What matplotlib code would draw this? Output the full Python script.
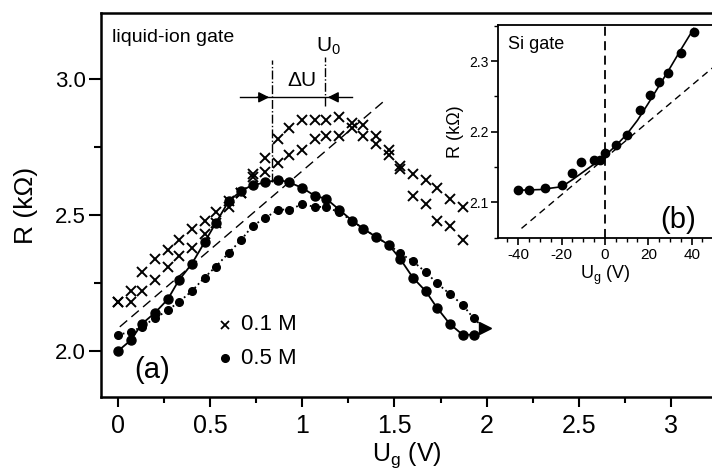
import matplotlib
matplotlib.use("Agg")
import matplotlib.pyplot as plt
from matplotlib.ticker import MultipleLocator

plt.rcParams["font.family"] = ["Liberation Sans", "DejaVu Sans"]
plt.rcParams["mathtext.default"] = "regular"
plt.rcParams["axes.unicode_minus"] = False

# (a) liquid-ion gate, 0.1 M (crosses, two sweeps)
ug_cross = [0.00, 0.07, 0.13, 0.20, 0.27, 0.33, 0.40, 0.47, 0.53, 0.60, 0.67, 0.73, 0.80, 0.87, 0.93,
            1.00, 1.07, 1.13, 1.20, 1.27, 1.33, 1.40, 1.47, 1.53, 1.60, 1.67, 1.73, 1.80, 1.87]
r_cross_up = [2.18, 2.22, 2.29, 2.34, 2.37, 2.41, 2.45, 2.48, 2.51, 2.55, 2.58, 2.65, 2.71, 2.78, 2.82,
              2.85, 2.85, 2.85, 2.86, 2.84, 2.83, 2.79, 2.74, 2.68, 2.65, 2.63, 2.60, 2.56, 2.53]
r_cross_low = [2.18, 2.18, 2.22, 2.26, 2.31, 2.35, 2.38, 2.43, 2.47, 2.53, 2.58, 2.64, 2.66, 2.69, 2.72,
               2.74, 2.78, 2.79, 2.79, 2.82, 2.79, 2.76, 2.72, 2.67, 2.57, 2.54, 2.48, 2.46, 2.41]

# (a) 0.5 M (dots, two sweeps)
ug_dot = [0.00, 0.07, 0.13, 0.20, 0.27, 0.33, 0.40, 0.47, 0.53, 0.60, 0.67, 0.73, 0.80, 0.87, 0.93,
          1.00, 1.07, 1.13, 1.20, 1.27, 1.33, 1.40, 1.47, 1.53, 1.60, 1.67, 1.73, 1.80, 1.87, 1.93]
r_dot_solid = [2.00, 2.04, 2.10, 2.14, 2.19, 2.26, 2.32, 2.40, 2.47, 2.55, 2.59, 2.61, 2.62, 2.63, 2.62,
               2.60, 2.57, 2.56, 2.52, 2.48, 2.45, 2.42, 2.39, 2.34, 2.27, 2.22, 2.16, 2.10, 2.06, 2.06]
r_dot_dotted = [2.06, 2.07, 2.09, 2.12, 2.15, 2.18, 2.22, 2.27, 2.31, 2.36, 2.41, 2.46, 2.49, 2.52, 2.52,
                2.54, 2.53, 2.53, 2.51, 2.48, 2.45, 2.42, 2.39, 2.36, 2.33, 2.29, 2.25, 2.21, 2.17, 2.12]
dotted_end = (1.99, 2.083)

# linear reference line in (a)
ug_lin = [0.01, 1.44]
r_lin = [2.089, 2.917]

# Delta U marks
u_left, u0 = 0.836, 1.123
arrow_y = 2.933

# (b) Si gate
ug_si = [-40, -35, -27.5, -20, -15, -11, -5, -2.5, 0, 5, 10, 16, 21, 25, 29, 35, 41]
r_si = [2.117, 2.118, 2.120, 2.124, 2.141, 2.157, 2.160, 2.160, 2.170, 2.181, 2.195, 2.231, 2.252,
        2.271, 2.283, 2.312, 2.341]
ug_si_fit = [-40, -30, -20, -15, -10, -5, 0, 5, 10, 15, 20, 25, 30, 35, 41]
r_si_fit = [2.117, 2.118, 2.122, 2.132, 2.143, 2.154, 2.166, 2.180, 2.196, 2.216, 2.240, 2.265,
            2.290, 2.316, 2.346]
ug_si_lin = [-38.5, 49.5]
r_si_lin = [2.063, 2.290]

fig = plt.figure(figsize=(7.12, 4.74), dpi=100)
ax = fig.add_axes([101 / 712, 77 / 474, 611 / 712, 384 / 474])

ax.plot(ug_lin, r_lin, color="k", ls=(0, (7, 4)), lw=1.0)
ax.plot(ug_cross, r_cross_up, "x", color="k", ms=7, mew=1.4)
ax.plot(ug_cross, r_cross_low, "x", color="k", ms=7, mew=1.4)
ax.plot(ug_dot, r_dot_dotted, color="k", ls=":", lw=1.3, marker="o", ms=5.5)
ax.plot([ug_dot[-1], dotted_end[0]], [r_dot_dotted[-1], dotted_end[1]], color="k", ls=":", lw=1.3)
ax.plot([dotted_end[0]], [dotted_end[1]], marker=">", color="k", ms=8)
ax.plot(ug_dot, r_dot_solid, color="k", ls="-", lw=1.3, marker="o", ms=6.5)

# Delta U construction
ax.plot([u_left, u_left], [2.62, 3.07], color="k", ls="-.", lw=1.0)
ax.plot([u0, u0], [2.90, 3.08], color="k", ls="-.", lw=1.0)
ax.plot([0.662, 1.27], [arrow_y, arrow_y], color="k", lw=1.0)
ax.annotate("", xy=(u_left, arrow_y), xytext=(0.74, arrow_y),
            arrowprops=dict(arrowstyle="-|>", color="k", lw=1.0, mutation_scale=16))
ax.annotate("", xy=(u0, arrow_y), xytext=(1.20, arrow_y),
            arrowprops=dict(arrowstyle="-|>", color="k", lw=1.0, mutation_scale=16))
ax.text(0.997, 2.996, "ΔU", ha="center", va="center", fontsize=15)
ax.text(1.14, 3.12, "U$_0$", ha="center", va="center", fontsize=15)

ax.text(-0.03, 3.152, "liquid-ion gate", ha="left", va="center", fontsize=14)
ax.text(0.184, 1.93, "(a)", ha="center", va="center", fontsize=21)

# legend
ax.plot([0.58], [2.096], "x", color="k", ms=6, mew=1.3)
ax.plot([0.58], [1.974], "o", color="k", ms=5.5)
ax.text(0.665, 2.096, "0.1 M", ha="left", va="center", fontsize=16)
ax.text(0.665, 1.974, "0.5 M", ha="left", va="center", fontsize=16)

ax.set_xlim(-0.092, 3.223)
ax.set_ylim(1.831, 3.243)
ax.xaxis.set_minor_locator(MultipleLocator(0.25))
ax.yaxis.set_minor_locator(MultipleLocator(0.25))
ax.set_xticks([0, 0.5, 1, 1.5, 2, 2.5, 3])
ax.set_xticklabels(["0", "0.5", "1", "1.5", "2", "2.5", "3"])
ax.set_yticks([2.0, 2.5, 3.0])
ax.set_yticklabels(["2.0", "2.5", "3.0"])
ax.tick_params(axis="x", which="major", length=7, width=1.5, labelsize=18, pad=5)
ax.tick_params(axis="x", which="minor", length=4, width=1.5)
ax.tick_params(axis="y", which="major", length=9, width=1.5, labelsize=16, pad=2)
ax.tick_params(axis="y", which="minor", length=5, width=1.5)
ax.tick_params(top=False, right=False, which="both")
for s in ["left", "bottom", "top"]:
    ax.spines[s].set_linewidth(1.8)
ax.spines["right"].set_visible(False)
ax.set_xlabel("U$_g$ (V)", fontsize=18, labelpad=2)
ax.set_ylabel("R (kΩ)", fontsize=19, labelpad=12)

# inset (b)
axi = fig.add_axes([498.3 / 712, (474 - 238.3) / 474, (712 - 498.3) / 712, 213.3 / 474])
axi.set_facecolor("white")
axi.axvline(0, color="k", ls=(0, (5, 3)), lw=1.3)
axi.plot(ug_si_lin, r_si_lin, color="k", ls=(0, (5, 3.5)), lw=1.0)
axi.plot(ug_si_fit, r_si_fit, color="k", lw=1.2)
axi.plot(ug_si, r_si, "o", color="k", ms=6)
axi.text(-44.5, 2.324, "Si gate", ha="left", va="center", fontsize=13)
axi.text(34, 2.075, "(b)", ha="center", va="center", fontsize=21)
axi.set_xlim(-49.2, 49.4)
axi.set_ylim(2.049, 2.351)
axi.set_xticks([-40, -20, 0, 20, 40])
axi.xaxis.set_minor_locator(MultipleLocator(5))
axi.set_yticks([2.1, 2.2, 2.3])
axi.set_yticklabels(["2.1", "2.2", "2.3"])
axi.yaxis.set_minor_locator(MultipleLocator(0.05))
axi.tick_params(axis="x", which="major", length=5, width=1.2, labelsize=11, pad=2)
axi.tick_params(axis="x", which="minor", length=3, width=1.0)
axi.tick_params(axis="y", which="major", length=5, width=1.2, labelsize=10, pad=2)
axi.tick_params(axis="y", which="minor", length=3, width=1.0)
for s in ["left", "bottom", "top"]:
    axi.spines[s].set_linewidth(1.3)
axi.spines["right"].set_visible(False)
axi.set_xlabel("U$_g$ (V)", fontsize=13, labelpad=1)
axi.set_ylabel("R (kΩ)", fontsize=13, labelpad=4)

fig.savefig("out.png", dpi=100)
